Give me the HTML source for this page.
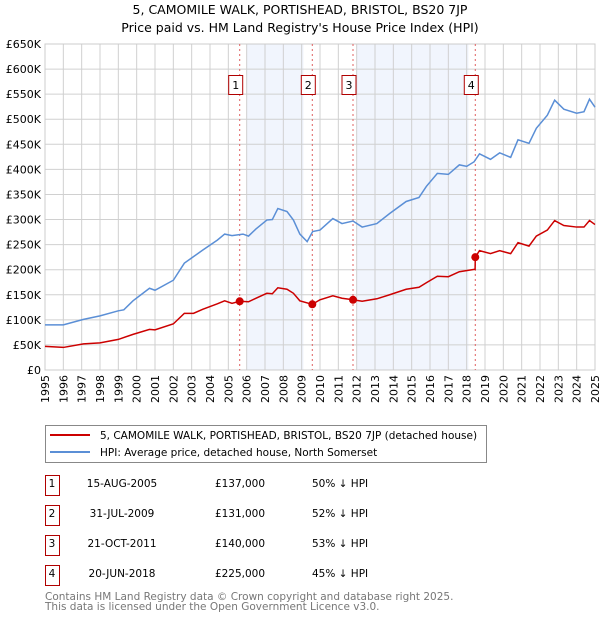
<!DOCTYPE html>
<html><head><meta charset="utf-8"><style>
body{margin:0;background:#fff;width:600px;height:620px;overflow:hidden;font-family:"DejaVu Sans","Liberation Sans",sans-serif}
svg text{font-family:"DejaVu Sans","Liberation Sans",sans-serif}
</style></head><body>
<svg id="c" width="600" height="620" xmlns="http://www.w3.org/2000/svg">
<text x="300" y="14" text-anchor="middle" font-size="12.5" fill="#000">5, CAMOMILE WALK, PORTISHEAD, BRISTOL, BS20 7JP</text>
<text x="300" y="32" text-anchor="middle" font-size="12.5" fill="#000">Price paid vs. HM Land Registry's House Price Index (HPI)</text>
<g id="plot"></g>
<g>
<rect x="45.5" y="425.5" width="441" height="37" fill="#fff" stroke="#888"/>
<line x1="50" y1="435" x2="90" y2="435" stroke="#cc0000" stroke-width="2"/>
<text x="100" y="439" font-size="10.5">5, CAMOMILE WALK, PORTISHEAD, BRISTOL, BS20 7JP (detached house)</text>
<line x1="50" y1="452" x2="90" y2="452" stroke="#5b8fd6" stroke-width="2"/>
<text x="100" y="456" font-size="10.5">HPI: Average price, detached house, North Somerset</text>
</g>
<g id="tbl" font-size="10.5"></g>
<text x="45" y="600" font-size="10.5" fill="#777">Contains HM Land Registry data © Crown copyright and database right 2025.</text>
<text x="45" y="610" font-size="10.5" fill="#777">This data is licensed under the Open Government Licence v3.0.</text>
</svg>
<script>
const hpiYears=[1995,1996,1997.1,1998,1999,1999.3,1999.8,2000.7,2001,2002,2002.6,2003.1,2003.6,2004.4,2004.8,2005.2,2005.8,2006.1,2006.5,2007.1,2007.4,2007.7,2008.2,2008.55,2008.9,2009.3,2009.6,2010,2010.7,2011.2,2011.8,2012.3,2013.1,2013.8,2014.7,2015.4,2015.8,2016.4,2017,2017.6,2018,2018.4,2018.7,2019.3,2019.8,2020.4,2020.8,2021.4,2021.8,2022.4,2022.8,2023.3,2024,2024.4,2024.7,2025];
const hpiValues=[90,90,101,108,118,120,138,163,159,179,213,226,239,259,271,268,271,267,281,299,300,322,316,299,271,256,276,279,302,292,297,285,292,312,336,344,366,392,390,409,406,415,431,420,433,424,459,452,482,508,538,520,512,515,540,524];
const ppYears=[1995,1996,1997.1,1998,1999,1999.8,2000.7,2001,2002,2002.6,2003.1,2003.6,2004.4,2004.8,2005.2,2005.62,2006.1,2006.5,2007.1,2007.4,2007.7,2008.2,2008.55,2008.9,2009.58,2010,2010.7,2011.2,2011.8,2012.3,2013.1,2013.8,2014.7,2015.4,2015.8,2016.4,2017,2017.6,2018.46,2018.47,2018.7,2019.3,2019.8,2020.4,2020.8,2021.4,2021.8,2022.4,2022.8,2023.3,2024,2024.4,2024.7,2025];
const ppValues=[47,45,52,54,61,71,81,80,92,113,113,121,132,138,133,137,136,143,153,152,164,161,153,138,131,140,148,143,140,137,142,150,161,165,174,187,186,196,201,225,238,232,238,232,254,247,267,279,298,288,285,285,298,290];
const saleLabels=["1","2","3","4"];
const saleYears=[2005.62,2009.58,2011.8,2018.47];
const salePrices=[137,131,140,225];
const saleDates=["15-AUG-2005","31-JUL-2009","21-OCT-2011","20-JUN-2018"];
const salePriceText=["£137,000","£131,000","£140,000","£225,000"];
const saleDiff=["50% ↓ HPI","52% ↓ HPI","53% ↓ HPI","45% ↓ HPI"];
const yTicks=[0,50,100,150,200,250,300,350,400,450,500,550,600,650];
const yTickLabels=["£0","£50K","£100K","£150K","£200K","£250K","£300K","£350K","£400K","£450K","£500K","£550K","£600K","£650K"];
const shadeRanges=[[2006,2009.1],[2012,2018.1]];

const X0=45,X1=595,Y0=370,Y1=44;
const xs=y=>X0+(y-1995)/30*(X1-X0);
const ys=v=>Y0-v/650*(Y0-Y1);
const NS="http://www.w3.org/2000/svg";
const plot=document.getElementById('plot');
function mk(tag,attrs,parent){const e=document.createElementNS(NS,tag);for(const k in attrs)e.setAttribute(k,attrs[k]);(parent||plot).appendChild(e);return e;}
shadeRanges.forEach(r=>{const e=mk('rect',{x:xs(r[0]),y:Y1,width:xs(r[1])-xs(r[0]),height:Y0-Y1,fill:'#eef3fd',opacity:0.8});

});
for(let yr=1995;yr<=2025;yr++){const x=xs(yr);
const l=mk('line',{x1:x,y1:Y1,x2:x,y2:Y0,stroke:'#d0d0d0'});


const t=mk('text',{x:0,y:0,'font-size':11,'text-anchor':'end',transform:`translate(${x+4},${Y0+5}) rotate(-90)`});
t.textContent=yr;

}
yTicks.forEach((v,i)=>{const y=ys(v);
const l=mk('line',{x1:X0,y1:y,x2:X1,y2:y,stroke:'#d0d0d0'});


const t=mk('text',{x:41,y:y+4,'font-size':11,'text-anchor':'end'});
t.textContent=yTickLabels[i];

});
const bd=mk('rect',{x:X0,y:Y1,width:X1-X0,height:Y0-Y1,fill:'none',stroke:'#ccc'});


saleYears.forEach((yr,i)=>{const x=xs(yr);
const l=mk('line',{x1:x,y1:Y1,x2:x,y2:Y0,stroke:'#e06060','stroke-dasharray':'2,3'});


const b=mk('rect',{x:x-11,y:75.5,width:14,height:19,fill:'#fff',stroke:'#b00000'});


const t=mk('text',{x:x-4,y:89,'font-size':11,'text-anchor':'middle'});
t.textContent=saleLabels[i];

});
const hp=mk('polyline',{points:hpiYears.map((y,i)=>xs(y)+','+ys(hpiValues[i])).join(' '),fill:'none',stroke:'#5b8fd6','stroke-width':1.5});


const pp=mk('polyline',{points:ppYears.map((y,i)=>xs(y)+','+ys(ppValues[i])).join(' '),fill:'none',stroke:'#cc0000','stroke-width':1.5});


saleYears.forEach((yr,i)=>{const c=mk('circle',{cx:xs(yr),cy:ys(salePrices[i]),r:4,fill:'#cc0000'});

});
const tbl=document.getElementById('tbl');
saleLabels.forEach((s,i)=>{const y=476+i*30;
const b=mk('rect',{x:45.5,y:y-0.5,width:14,height:20,fill:'#fff',stroke:'#b00000'},tbl);


[[52,s,'middle'],[122,saleDates[i],'middle'],[240,salePriceText[i],'middle'],[312,saleDiff[i],'start']].forEach(c=>{
const t=mk('text',{x:c[0],y:y+11,'text-anchor':c[2]},tbl);t.textContent=c[1];

});});
</script>
</body></html>
